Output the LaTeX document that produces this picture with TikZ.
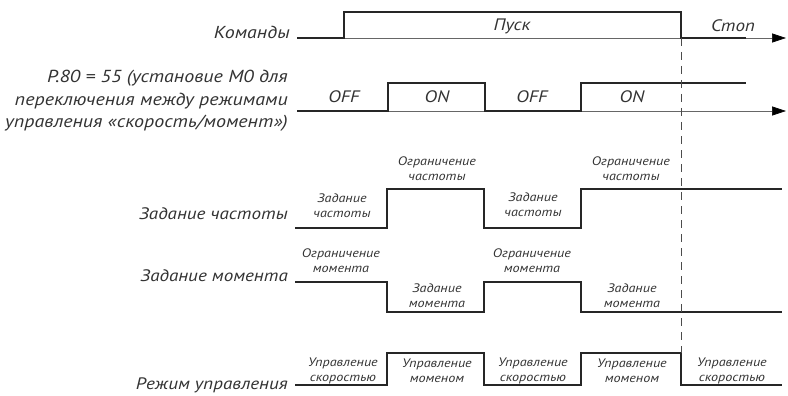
\documentclass[tikz,border=0pt]{standalone}
\usepackage{fontspec}
\setmainfont{PT Sans}
\newfontfamily\rf[FakeStretch=1.15]{PT Sans}
\usetikzlibrary{arrows.meta}
\begin{document}
\begin{tikzpicture}[x=1pt,y=-1pt,
  sig/.style={line width=1.6pt, black!85},
  axis/.style={line width=0.6pt, black!60, -{Triangle[length=14pt,width=9pt,color=black]}},
  dash line/.style={line width=0.7pt, black!70, dash pattern=on 8pt off 6pt},
  big/.style={font=\rf\itshape\fontsize{16.6}{22.5}\selectfont, text=black!80, inner sep=0pt},
  small/.style={font=\rf\itshape\fontsize{12.3}{15}\selectfont, text=black!80, align=center, inner sep=0pt},
]
\useasboundingbox (0,0) rectangle (788,396);

% axes
\coordinate (a1s) at (297,38);  \coordinate (a1e) at (786,38);
\coordinate (a2s) at (297,111); \coordinate (a2e) at (786,111);
\draw[axis] (a1s) -- (a1e);
\draw[axis] (a2s) -- (a2e);

% signals
\draw[sig] (297,38) -- (344,38) -- (344,12) -- (681,12) -- (681,38) -- (746,38);
\draw[sig] (297,111) -- (388,111) -- (388,83) -- (485,83) -- (485,111) -- (581,111) -- (581,83) -- (746,83);
\draw[sig] (295,228) -- (387,228) -- (387,189) -- (484,189) -- (484,228) -- (581,228) -- (581,189) -- (782,189);
\draw[sig] (295,282) -- (387,282) -- (387,312) -- (484,312) -- (484,282) -- (581,282) -- (581,312) -- (782,312);
\draw[sig] (295,385) -- (387,385) -- (387,353) -- (484,353) -- (484,385) -- (581,385) -- (581,353) -- (681,353) -- (681,385) -- (782,385);

% dashed stop line
\coordinate (dtop) at (681,38); \coordinate (dbot) at (681,353);
\draw[dash line] (dtop) -- (dbot);

% row labels
\node[big, anchor=east] (l1) at (290,32) {\fontsize{17.3}{22.5}\selectfont Команды};
\node[big, anchor=east, align=right, font=\rf\itshape\fontsize{17.4}{22.5}\selectfont] (l2) at (288,101) {P.80 = 55 (установие М0 для\\переключения между режимами\\управления «скорость/момент»)};
\node[big, anchor=east] (l3) at (288,214) {Задание частоты};
\node[big, anchor=east] (l4) at (288,276) {Задание момента};
\node[big, anchor=east] (l5) at (288,385) {Режим управления};

% row 1
\node[big] (pusk) at (512,26) {Пуск};
\node[big] (stop) at (733,26) {Стоп};

% row 2
\node[big] (off1) at (344,97) {OFF};
\node[big] (on1) at (437,97) {ON};
\node[big] (off2) at (532,97) {OFF};
\node[big] (on2) at (632,97) {ON};

% row 3
\node[small] (f1) at (342,206) {Задание\\частоты};
\node[small] (f2) at (437,169) {Ограничение\\частоты};
\node[small] (f3) at (533,205) {Задание\\частоты};
\node[small] (f4) at (631,169) {Ограничение\\частоты};

% row 4
\node[small] (m1) at (341,261) {Ограничение\\момента};
\node[small] (m2) at (437,296) {Задание\\момента};
\node[small] (m3) at (532,261) {Ограничение\\момента};
\node[small] (m4) at (632,296) {Задание\\момента};

% row 5
\node[small] (r1) at (343,371) {Управление\\скоростью};
\node[small] (r2) at (437,371) {Управление\\моменом};
\node[small] (r3) at (533,371) {Управление\\скоростью};
\node[small] (r4) at (632,371) {Управление\\моменом};
\node[small] (r5) at (732,371) {Управление\\скоростью};
\end{tikzpicture}
\end{document}
